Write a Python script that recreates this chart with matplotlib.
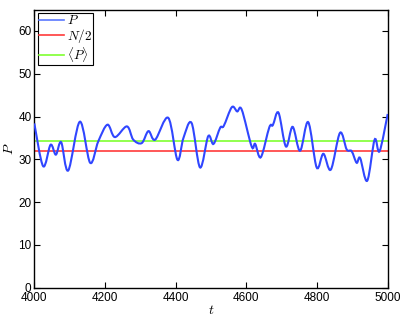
import numpy as np
import matplotlib
matplotlib.use("Agg")
import matplotlib.pyplot as plt
from matplotlib.path import Path
from matplotlib.patches import PathPatch

# values (turning points of P(t))
t = [4000, 4025, 4046, 4061, 4076, 4096, 4129, 4158, 4181, 4207,
     4228, 4262, 4280, 4304, 4323, 4342, 4379, 4405, 4422, 4445,
     4469, 4492, 4507, 4526, 4536, 4559, 4574, 4587, 4615, 4625,
     4641, 4665, 4675, 4691, 4712, 4731, 4752, 4775, 4799, 4818,
     4839, 4865, 4884, 4898, 4912, 4922, 4942, 4963, 4977, 5000]
P = [38.4, 28.4, 33.4, 31.1, 34.0, 27.4, 38.8, 29.2, 34.2, 38.1,
     35.2, 37.7, 34.6, 33.8, 36.6, 34.6, 39.7, 29.9, 35.0, 38.5,
     28.1, 35.4, 33.6, 37.4, 37.8, 42.2, 41.2, 41.6, 33.0, 33.6,
     30.5, 37.5, 38.0, 40.9, 33.0, 37.6, 32.0, 38.7, 28.1, 31.3,
     27.6, 36.2, 32.3, 31.9, 29.2, 30.3, 25.0, 34.6, 31.9, 40.6]
half_N = 32.0
mean_P = 34.2

blue = "#3046ff"
red = "#ff3b3b"
green = "#7fff30"

plt.rcParams["font.family"] = "Liberation Sans"
plt.rcParams["mathtext.fontset"] = "cm"

fig = plt.figure(figsize=(4.07, 3.19), dpi=100)
ax = fig.add_axes([0.0843, 0.098, 0.8683, 0.872])

# smooth curve through the read points (Catmull-Rom as cubic Bezier)
x = np.array(t, dtype=float)
y = np.array(P, dtype=float)
verts = [(x[0], y[0])]
codes = [Path.MOVETO]
for i in range(len(x) - 1):
    i0 = max(i - 1, 0)
    i3 = min(i + 2, len(x) - 1)
    c1 = (x[i] + (x[i + 1] - x[i0]) / 6, y[i] + (y[i + 1] - y[i0]) / 6)
    c2 = (x[i + 1] - (x[i3] - x[i]) / 6, y[i + 1] - (y[i3] - y[i]) / 6)
    verts += [c1, c2, (x[i + 1], y[i + 1])]
    codes += [Path.CURVE4] * 3
ax.add_patch(PathPatch(Path(verts, codes), fill=False, edgecolor=blue,
                       lw=1.5, zorder=3))

ax.plot([], [], color="#5a78ff", lw=1.2, label=r"$P$")
ax.axhline(half_N, color=red, lw=1.2, label=r"$N/2$", zorder=2)
ax.axhline(mean_P, color=green, lw=1.2, label=r"$\langle P\rangle$", zorder=2)

ax.set_xlim(4000, 5000)
ax.set_ylim(0, 65)
ax.set_xticks(np.arange(4000, 5001, 200))
ax.set_yticks(np.arange(0, 61, 10))
ax.tick_params(direction="in", top=True, right=True, length=4,
               width=0.8, labelsize=8.5, pad=2)
ax.tick_params(axis="x", pad=3)
for s in ax.spines.values():
    s.set_linewidth(1.0)
ax.set_xlabel(r"$t$", fontsize=10, labelpad=-1)
ax.set_ylabel(r"$P$", fontsize=10, labelpad=2)

leg = ax.legend(loc="upper left", fontsize=9.5, handlelength=1.9,
                handletextpad=0.2, borderpad=0.1, labelspacing=-0.02,
                borderaxespad=0.25, fancybox=False, framealpha=1)
leg.get_frame().set_edgecolor("black")
leg.get_frame().set_linewidth(0.8)

fig.savefig("out.png", dpi=100)
